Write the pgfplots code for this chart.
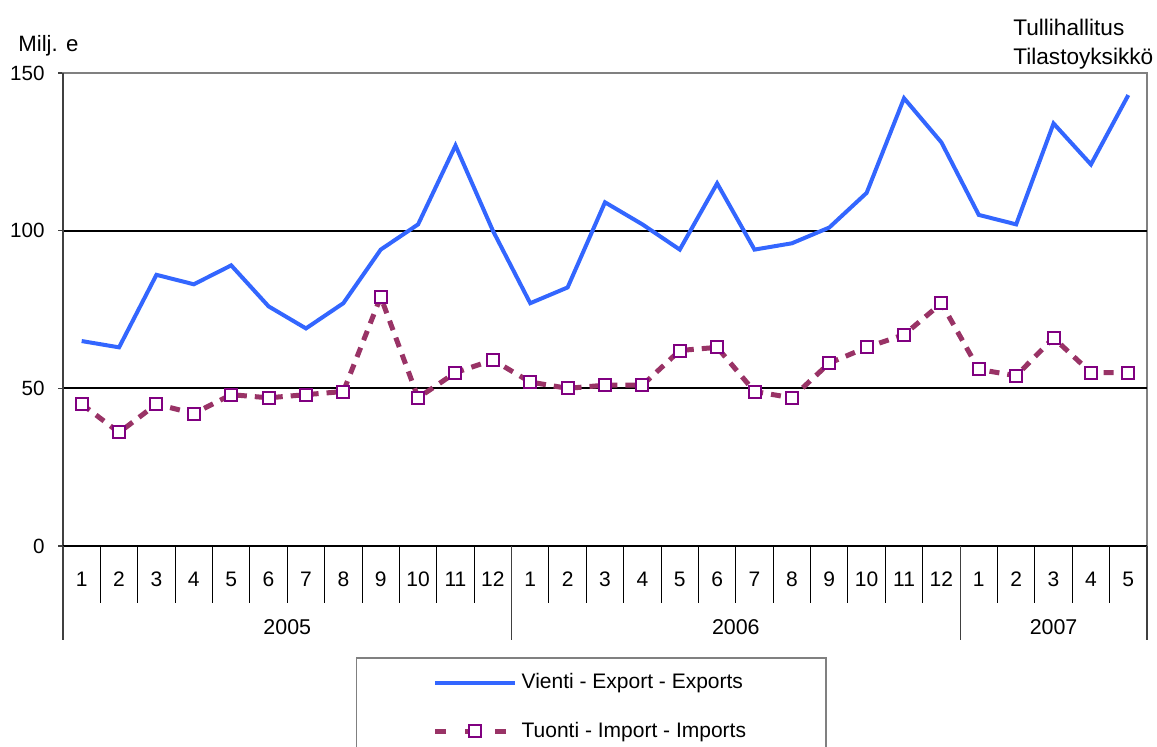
\documentclass[border=0pt]{standalone}
\usepackage{pgfplots}
\pgfplotsset{compat=1.18}
\usepackage{fontspec}
\setmainfont{Liberation Sans}
\definecolor{expc}{HTML}{3366FF}
\definecolor{impl}{HTML}{993366}
\definecolor{impm}{HTML}{800080}
\definecolor{axgray}{HTML}{808080}
\definecolor{axdark}{HTML}{404040}
\pgfplotsset{
  explegend/.style={legend image code/.code={\draw[##1] (0pt,0pt) -- (40pt,0pt);}},
  implegend/.style={legend image code/.code={
    \draw[##1, mark=none, dash pattern=on 5.5pt off 9.5pt] (0pt,0pt) -- (40pt,0pt);
    \draw[##1] plot coordinates {(20pt,0pt)};}},
}

\begin{document}
\fontsize{10}{12}\selectfont
\begin{tikzpicture}[font=\fontsize{10}{12}\selectfont]
\path[use as bounding box] (0,0) rectangle (578.5pt,-373pt);
\begin{axis}[
  at={(31.5pt,-273pt)}, anchor=south west,
  scale only axis, width=542pt, height=236.5pt,
  xmin=-0.5, xmax=28.5, ymin=0, ymax=150,
  clip=false,
  ytick={0,50,100,150},
  ytick pos=left,
  tick align=outside,
  major tick length=2.5pt,
  y tick style={axdark, line width=0.6pt},
  /pgf/number format/assume math mode=true,
  yticklabel style={anchor=east, inner sep=0pt, xshift=-6.5pt, font=\fontsize{10.3}{12}\selectfont},
  xtick={0,...,28},
  xticklabels={1,2,3,4,5,6,7,8,9,10,11,12,1,2,3,4,5,6,7,8,9,10,11,12,1,2,3,4,5},
  x tick style={draw=none},
  xticklabel style={anchor=base, yshift=-17.5pt, inner sep=0pt, font=\fontsize{10.5}{12}\selectfont},
  axis line style={draw=axgray, line width=1pt},
  legend style={at={(0.2702,-0.2347)}, anchor=north west, draw=axgray, line width=0.75pt,
    inner xsep=38pt, inner ysep=6pt, row sep=11pt, cells={anchor=west},
    font=\fontsize{10.5}{12}\selectfont},
  legend cell align=left,
]
% grid lines
\draw[black, line width=1pt] (axis cs:-0.5,50) -- (axis cs:28.5,50);
\draw[black, line width=1pt] (axis cs:-0.5,100) -- (axis cs:28.5,100);

\addplot[expc, line width=2pt, mark=none, explegend]
coordinates {
(0,65) (1,63) (2,86) (3,83) (4,89) (5,76) (6,69) (7,77) (8,94) (9,102) (10,127) (11,100)
(12,77) (13,82) (14,109) (15,102) (16,94) (17,115) (18,94) (19,96) (20,101) (21,112) (22,142) (23,128)
(24,105) (25,102) (26,134) (27,121) (28,143)
};
\addlegendentry{Vienti - Export - Exports}

\addplot[impl, line width=2.5pt, dash pattern=on 5pt off 4pt,
  mark=square*, mark size=3pt,
  mark options={solid, draw=impm, fill=white, line width=1pt}, implegend]
coordinates {
(0,45) (1,36) (2,45) (3,42) (4,48) (5,47) (6,48) (7,49) (8,79) (9,47) (10,55) (11,59)
(12,52) (13,50) (14,51) (15,51) (16,62) (17,63) (18,49) (19,47) (20,58) (21,63) (22,67) (23,77)
(24,56) (25,54) (26,66) (27,55) (28,55)
};
\addlegendentry{Tuonti - Import - Imports}

% axis overlays
\draw[axdark, line width=1pt] (axis cs:-0.5,0) -- (axis cs:-0.5,150);
\draw[black, line width=1pt] (axis cs:-0.5,0) -- (axis cs:28.5,0);

% month separators
\pgfplotsinvokeforeach{0.5,1.5,2.5,3.5,4.5,5.5,6.5,7.5,8.5,9.5,10.5,12.5,13.5,14.5,15.5,16.5,17.5,18.5,19.5,20.5,21.5,22.5,24.5,25.5,26.5,27.5}{
  \draw[black, line width=0.5pt] (axis cs:#1,0) -- ([yshift=-28.5pt]axis cs:#1,0);
}
% year separators
\pgfplotsinvokeforeach{-0.5,11.5,23.5,28.5}{
  \draw[axdark, line width=0.6pt] (axis cs:#1,0) -- ([yshift=-47pt]axis cs:#1,0);
}

\node[anchor=base, font=\fontsize{10.7}{12}\selectfont] at ([yshift=-44pt]axis cs:5.5,0) {2005};
\node[anchor=base, font=\fontsize{10.7}{12}\selectfont] at ([yshift=-44pt]axis cs:17.5,0) {2006};
\node[anchor=base, font=\fontsize{10.7}{12}\selectfont] at ([yshift=-44pt]axis cs:26,0) {2007};
\end{axis}
\node[anchor=base west, inner sep=0pt, font=\fontsize{11.1}{13}\selectfont] at (9pt,-25.5pt) {Milj. e};
\node[anchor=base west, inner sep=0pt, font=\fontsize{11.3}{13}\selectfont] at (506.5pt,-17.5pt) {Tullihallitus};
\node[anchor=base west, inner sep=0pt, font=\fontsize{11.3}{13}\selectfont] at (506.5pt,-32pt) {Tilastoyksikkö};
\end{tikzpicture}
\end{document}
